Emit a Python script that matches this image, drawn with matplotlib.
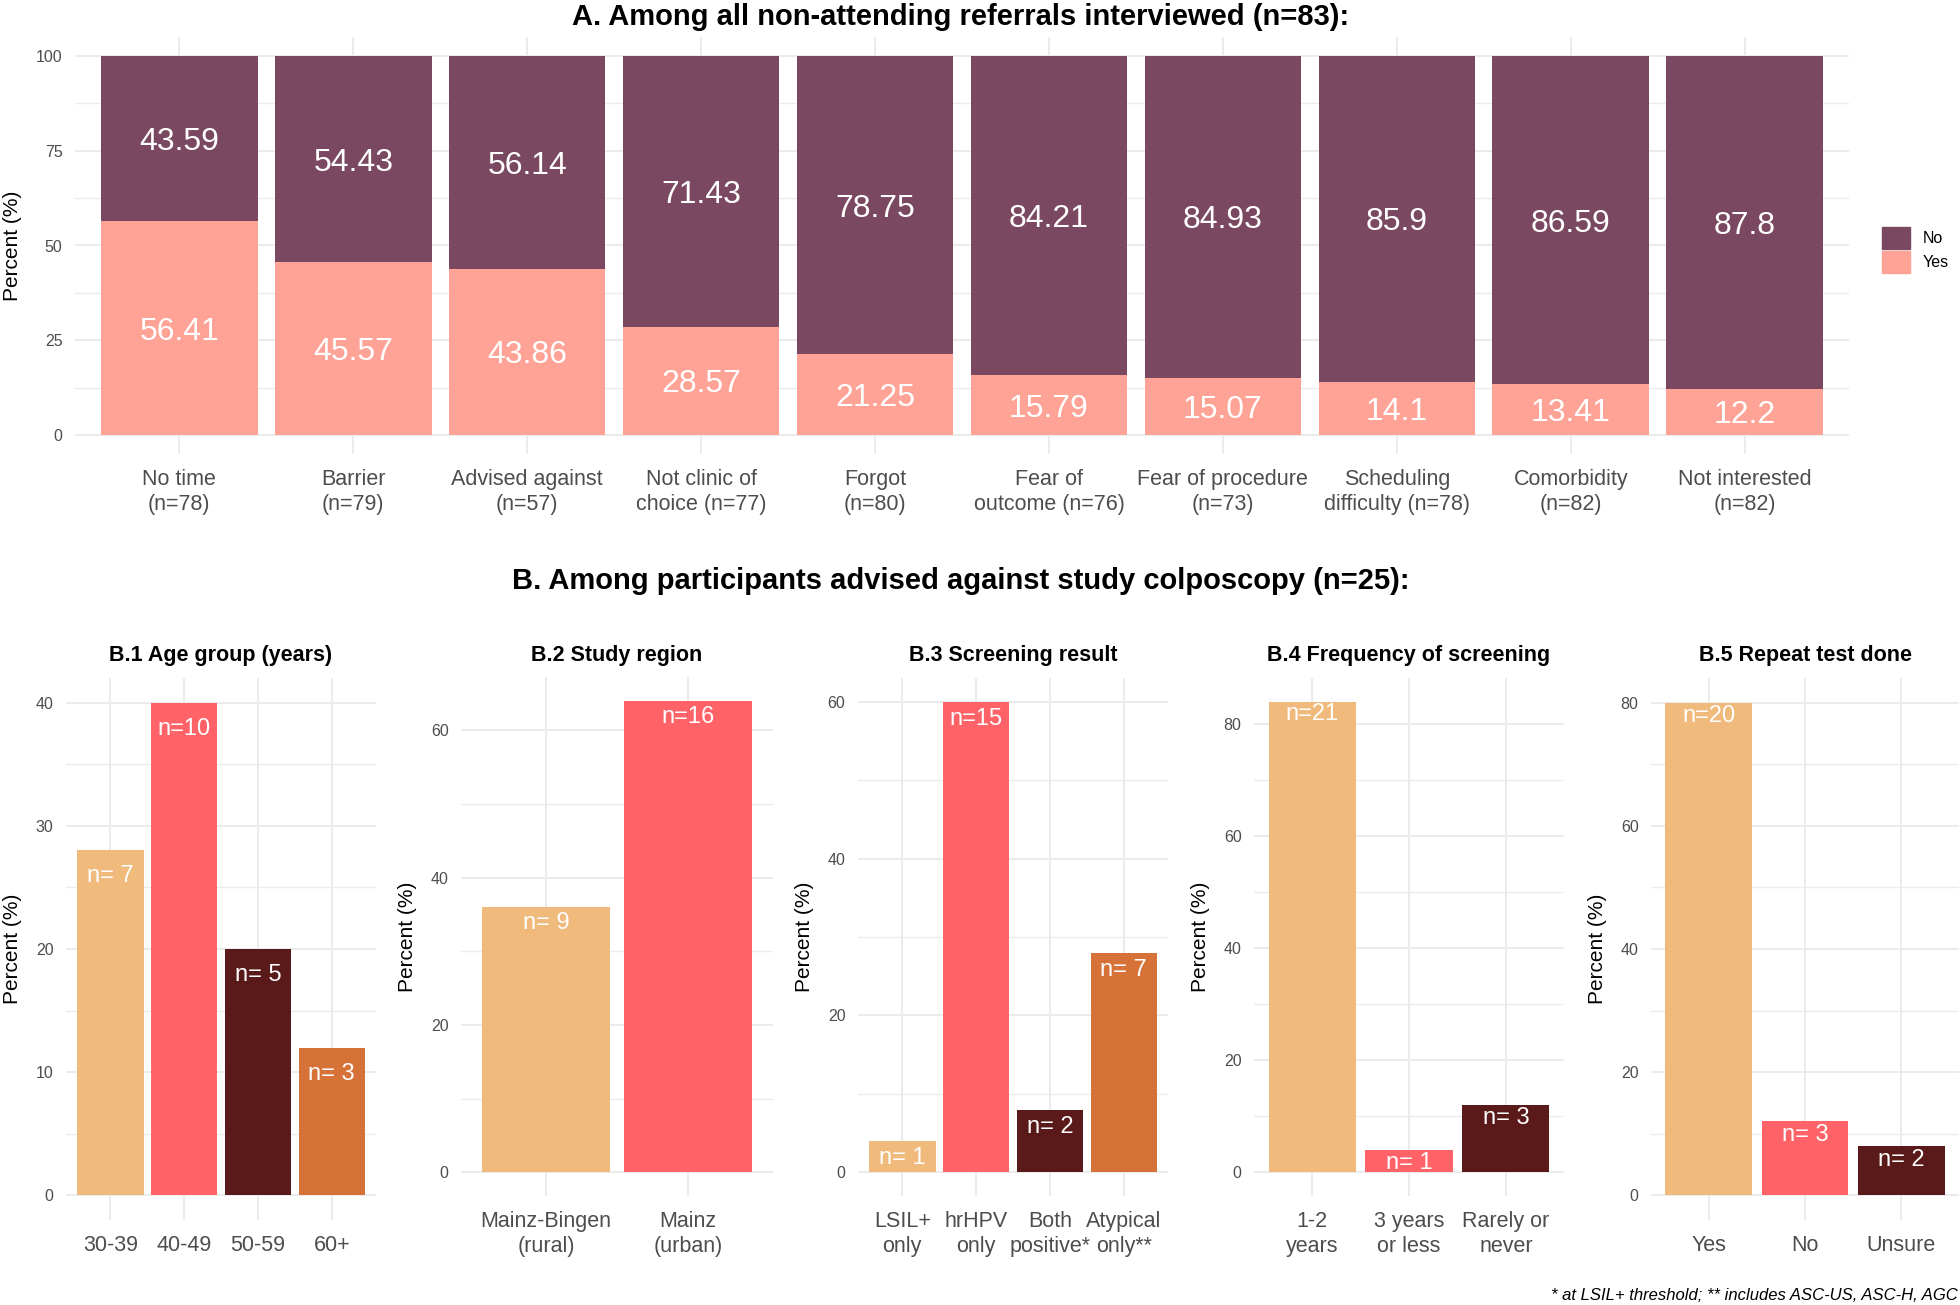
import matplotlib.pyplot as plt
from matplotlib.patches import Patch
from matplotlib.ticker import MultipleLocator

plt.rcParams['font.family'] = ['Liberation Sans', 'DejaVu Sans']

# ---- data ----
reasons = ['No time\n(n=78)', 'Barrier\n(n=79)', 'Advised against\n(n=57)',
           'Not clinic of\nchoice (n=77)', 'Forgot\n(n=80)', 'Fear of\noutcome (n=76)',
           'Fear of procedure\n(n=73)', 'Scheduling\ndifficulty (n=78)',
           'Comorbidity\n(n=82)', 'Not interested\n(n=82)']
yes_pct = [56.41, 45.57, 43.86, 28.57, 21.25, 15.79, 15.07, 14.1, 13.41, 12.2]
no_pct = [43.59, 54.43, 56.14, 71.43, 78.75, 84.21, 84.93, 85.9, 86.59, 87.8]

age_groups = ['30-39', '40-49', '50-59', '60+']
age_pct = [28, 40, 20, 12]
age_n = [7, 10, 5, 3]

regions = ['Mainz-Bingen\n(rural)', 'Mainz\n(urban)']
region_pct = [36, 64]
region_n = [9, 16]

screen_results = ['LSIL+\nonly', 'hrHPV\nonly', 'Both\npositive*', 'Atypical\nonly**']
screen_pct = [4, 60, 8, 28]
screen_n = [1, 15, 2, 7]

freq_groups = ['1-2\nyears', '3 years\nor less', 'Rarely or\nnever']
freq_pct = [84, 4, 12]
freq_n = [21, 1, 3]

repeat_groups = ['Yes', 'No', 'Unsure']
repeat_pct = [80, 12, 8]
repeat_n = [20, 3, 2]

# colours
c_no = '#7A4860'
c_yes = '#FFA396'
pal = ['#F0BA7C', '#FF6368', '#5B1A1A', '#D67138']
grid_c = '#EBEBEB'
tick_c = '#4D4D4D'

W, H = 1960, 1305
fig = plt.figure(figsize=(W / 100, H / 100), dpi=100)


def px_axes(x0, x1, ytop, ybot):
    return fig.add_axes([x0 / W, 1 - ybot / H, (x1 - x0) / W, (ybot - ytop) / H])


def style(ax, major, minor, ypad=9):
    for s in ax.spines.values():
        s.set_visible(False)
    ax.yaxis.set_major_locator(MultipleLocator(major))
    ax.yaxis.set_minor_locator(MultipleLocator(minor))
    ax.grid(True, which='major', color=grid_c, linewidth=1.4, zorder=0)
    ax.grid(True, which='minor', axis='y', color=grid_c, linewidth=1.0, zorder=0)
    ax.set_axisbelow(True)
    ax.tick_params(which='both', length=0)
    ax.tick_params(axis='y', labelsize=11.5, labelcolor=tick_c, pad=ypad)
    ax.tick_params(axis='x', labelsize=15.5, labelcolor=tick_c, pad=11)


# ---- panel A ----
axA = px_axes(75, 1849, 37, 454)
x = list(range(len(reasons)))
axA.bar(x, yes_pct, width=0.9, color=c_yes, zorder=2)
axA.bar(x, no_pct, bottom=yes_pct, width=0.9, color=c_no, zorder=2)
for i in x:
    axA.annotate(f'{yes_pct[i]:g}', (i, yes_pct[i] / 2), xytext=(0, -2.5),
                 textcoords='offset points', color='white', fontsize=23,
                 ha='center', va='center', zorder=3)
    axA.annotate(f'{no_pct[i]:g}', (i, yes_pct[i] + no_pct[i] / 2), xytext=(0, -2.5),
                 textcoords='offset points', color='white', fontsize=23,
                 ha='center', va='center', zorder=3)
axA.set_xlim(-0.6, len(reasons) - 0.4)
axA.set_ylim(-5, 105)
style(axA, 25, 12.5, ypad=9)
axA.set_xticks(x)
axA.set_xticklabels(reasons, linespacing=1.25)
axA.set_ylabel('Percent (%)', fontsize=15, labelpad=10)

fig.legend(handles=[Patch(color=c_no, label='No'), Patch(color=c_yes, label='Yes')],
           loc='center left', bbox_to_anchor=(1868 / W, 1 - 250 / H), frameon=False,
           fontsize=11.5, handlelength=1.75, handleheight=1.75, handletextpad=0.8,
           labelspacing=0.15)

fig.text(961 / W, 1 - 17 / H, 'A. Among all non-attending referrals interviewed (n=83):',
         ha='center', va='center', fontsize=21, weight='bold')
fig.text(961 / W, 1 - 581 / H, 'B. Among participants advised against study colposcopy (n=25):',
         ha='center', va='center', fontsize=21, weight='bold')

# ---- panels B ----
panels = [
    ('B.1 Age group (years)', age_groups, age_pct, age_n, (66, 376, 678, 1220), 10, 5, 42),
    ('B.2 Study region', regions, region_pct, region_n, (461, 773, 677, 1196), 20, 10, 67.2),
    ('B.3 Screening result', screen_results, screen_pct, screen_n, (858, 1168, 678, 1196), 20, 10, 63),
    ('B.4 Frequency of screening', freq_groups, freq_pct, freq_n, (1254, 1564, 678, 1196), 20, 10, 88.2),
    ('B.5 Repeat test done', repeat_groups, repeat_pct, repeat_n, (1651, 1959, 678, 1220), 20, 10, 84),
]

for title, cats, pct, ns, box, major, minor, ymax in panels:
    ax = px_axes(*box)
    xs = list(range(len(cats)))
    ax.bar(xs, pct, width=0.9, color=pal[:len(cats)], zorder=2)
    for i in xs:
        # labels sit 2 percentage points below the bar top
        ax.annotate(f'n={ns[i]:2d}', (i, pct[i] - 2), xytext=(0, -1), textcoords='offset points',
                    ha='center', va='center', color='white', fontsize=17, zorder=3)
    ax.set_xlim(-0.6, len(cats) - 0.4)
    ax.set_ylim(-ymax / 21, ymax)
    style(ax, major, minor)
    ax.set_xticks(xs)
    ax.set_xticklabels(cats, linespacing=1.25)
    ax.set_ylabel('Percent (%)', fontsize=15, labelpad=10)
    cx = (box[0] + box[1]) / 2
    fig.text(cx / W, 1 - 655 / H, title, ha='center', va='center', fontsize=15.5, weight='bold')

fig.text(1958 / W, 1 - 1296 / H, '* at LSIL+ threshold; ** includes ASC-US, ASC-H, AGC',
         ha='right', va='center', fontsize=12, style='italic')

fig.savefig('out.png', dpi=100, facecolor='white')
